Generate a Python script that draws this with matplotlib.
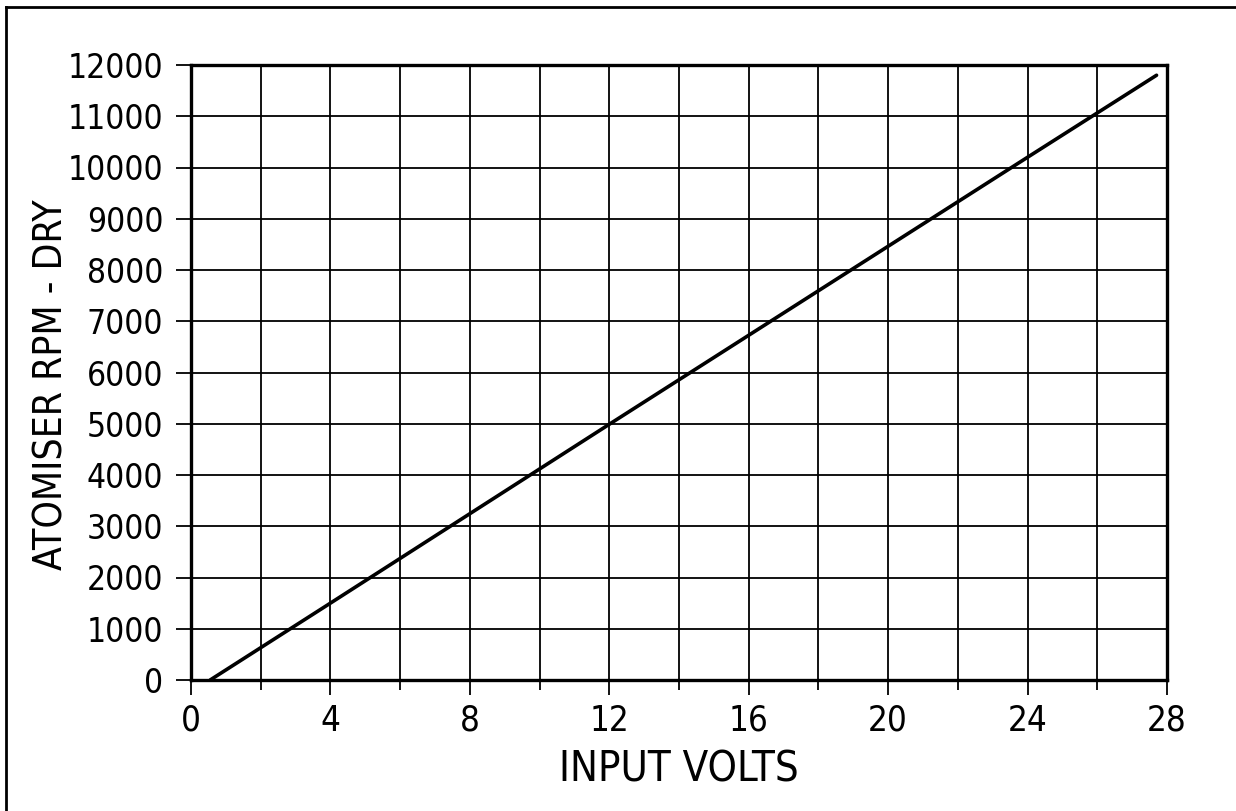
import matplotlib.pyplot as plt
from matplotlib.ticker import MultipleLocator

# data
volts = [0.55, 4.0, 12.0, 24.0, 27.7]
rpm = [0, 1500, 4990, 10200, 11800]

x_ticks = [0, 4, 8, 12, 16, 20, 24, 28]
y_ticks = [0, 1000, 2000, 3000, 4000, 5000, 6000, 7000, 8000, 9000, 10000, 11000, 12000]

plt.rcParams['font.family'] = ['DejaVu Sans']
plt.rcParams['font.stretch'] = 'condensed'

fig = plt.figure(figsize=(12.36, 8.11), dpi=100)
ax = fig.add_axes([191 / 1236, 1 - 680 / 811, (1167 - 191) / 1236, (680 - 65) / 811])

# grid every 2 V and every 1000 rpm
ax.xaxis.set_minor_locator(MultipleLocator(2))
ax.set_xticks(x_ticks)
ax.set_yticks(y_ticks)
ax.grid(which='both', color='black', linewidth=1.3)
ax.set_axisbelow(True)

ax.plot(volts, rpm, color='black', linewidth=2.6, solid_capstyle='round')

ax.set_xlim(0, 28)
ax.set_ylim(0, 12000)
ax.tick_params(axis='x', which='major', length=11, width=1.3, labelsize=25, pad=6)
ax.tick_params(axis='x', which='minor', length=7, width=1.3)
ax.tick_params(axis='y', which='major', length=11, width=1.3, labelsize=24, pad=9)
for s in ax.spines.values():
    s.set_linewidth(2.4)

ax.set_xlabel('INPUT VOLTS', fontsize=30, labelpad=8)
ax.set_ylabel('ATOMISER RPM - DRY', fontsize=28)
ax.yaxis.set_label_coords(-0.123, 0.48)

# frame round the page, as in the scan
fig.add_artist(plt.Line2D([6 / 1236, 6 / 1236], [0, 1 - 7 / 811], color='black', linewidth=2))
fig.add_artist(plt.Line2D([6 / 1236, 1], [1 - 7 / 811, 1 - 7 / 811], color='black', linewidth=2))

fig.savefig('out.png', dpi=100)
